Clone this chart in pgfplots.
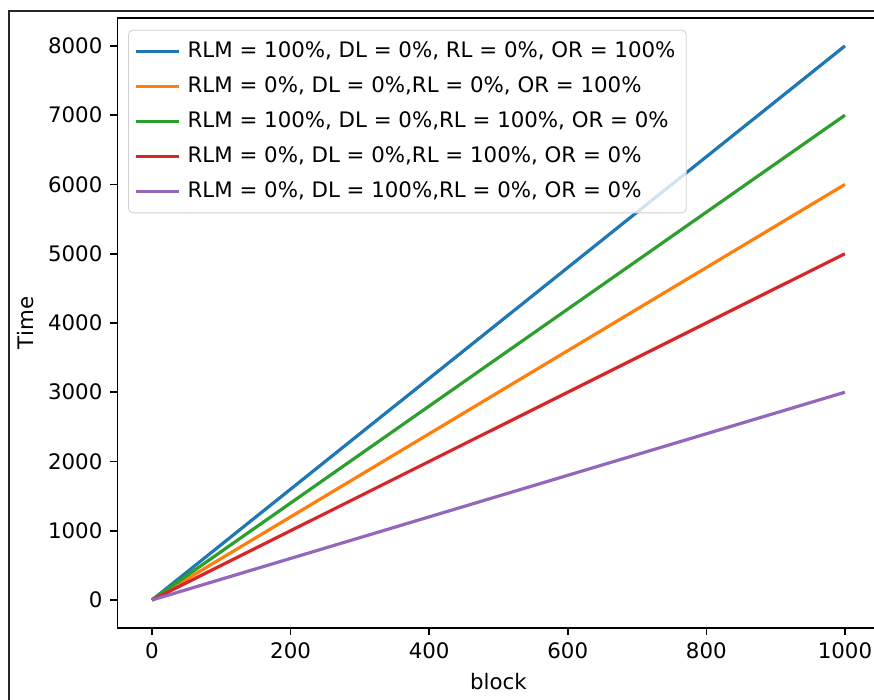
\documentclass[border=0pt]{standalone}
\usepackage{fontspec}
\setmainfont{DejaVu Sans}
\usepackage{pgfplots}
\pgfplotsset{compat=1.18}

\definecolor{c0}{HTML}{1F77B4}
\definecolor{c1}{HTML}{FF7F0E}
\definecolor{c2}{HTML}{2CA02C}
\definecolor{c3}{HTML}{D62728}
\definecolor{c4}{HTML}{9467BD}

\begin{document}
\begin{tikzpicture}
\useasboundingbox (0,0) rectangle (409.69pt,328.13pt);
\draw[line width=0.8pt, black!85] (4.22pt,-10pt) rectangle (430pt,322.97pt);
\begin{axis}[
    at={(55.01pt,33.89pt)}, anchor=south west,
    scale only axis,
    width=357.3pt, height=285.7pt,
    xmin=-50, xmax=1050, ymin=-400, ymax=8400,
    xtick={0,200,...,1000},
    ytick={0,1000,...,8000},
    scaled ticks=false,
    /pgf/number format/set thousands separator={},
    /pgf/number format/assume math mode=true,
    tick label style={font=\fontsize{10}{12}\selectfont},
    label style={font=\fontsize{10}{12}\selectfont},
    tick align=outside, tick pos=left,
    major tick length=3.5pt,
    axis line style={line width=0.8pt},
    every tick/.style={black, line width=0.8pt},
    xlabel={block}, ylabel={Time},
    legend cell align=left,
    legend image code/.code={\draw[#1] (0pt,0pt) -- (20pt,0pt); \path[draw=none] (0pt,0pt) -- (22pt,0pt);},
    legend style={at={(0.014,0.981)}, anchor=north west,
        draw=black!18, rounded corners=2pt, fill=white, fill opacity=0.8, text opacity=1,
        font=\fontsize{10}{12}\selectfont, row sep=3.5pt,
        inner xsep=3pt, inner ysep=3.5pt},
    every axis plot/.append style={line width=1.5pt},
]
\addplot[c0] coordinates {(0,0) (1000,8000)};
\addlegendentry{RLM = 100\%, DL = 0\%, RL = 0\%, OR = 100\%}
\addplot[c1] coordinates {(0,0) (1000,6000)};
\addlegendentry{RLM = 0\%, DL = 0\%,RL = 0\%, OR = 100\%}
\addplot[c2] coordinates {(0,0) (1000,7000)};
\addlegendentry{RLM = 100\%, DL = 0\%,RL = 100\%, OR = 0\%}
\addplot[c3] coordinates {(0,0) (1000,5000)};
\addlegendentry{RLM = 0\%, DL = 0\%,RL = 100\%, OR = 0\%}
\addplot[c4] coordinates {(0,0) (1000,3000)};
\addlegendentry{RLM = 0\%, DL = 100\%,RL = 0\%, OR = 0\%}
\end{axis}
\end{tikzpicture}
\end{document}
